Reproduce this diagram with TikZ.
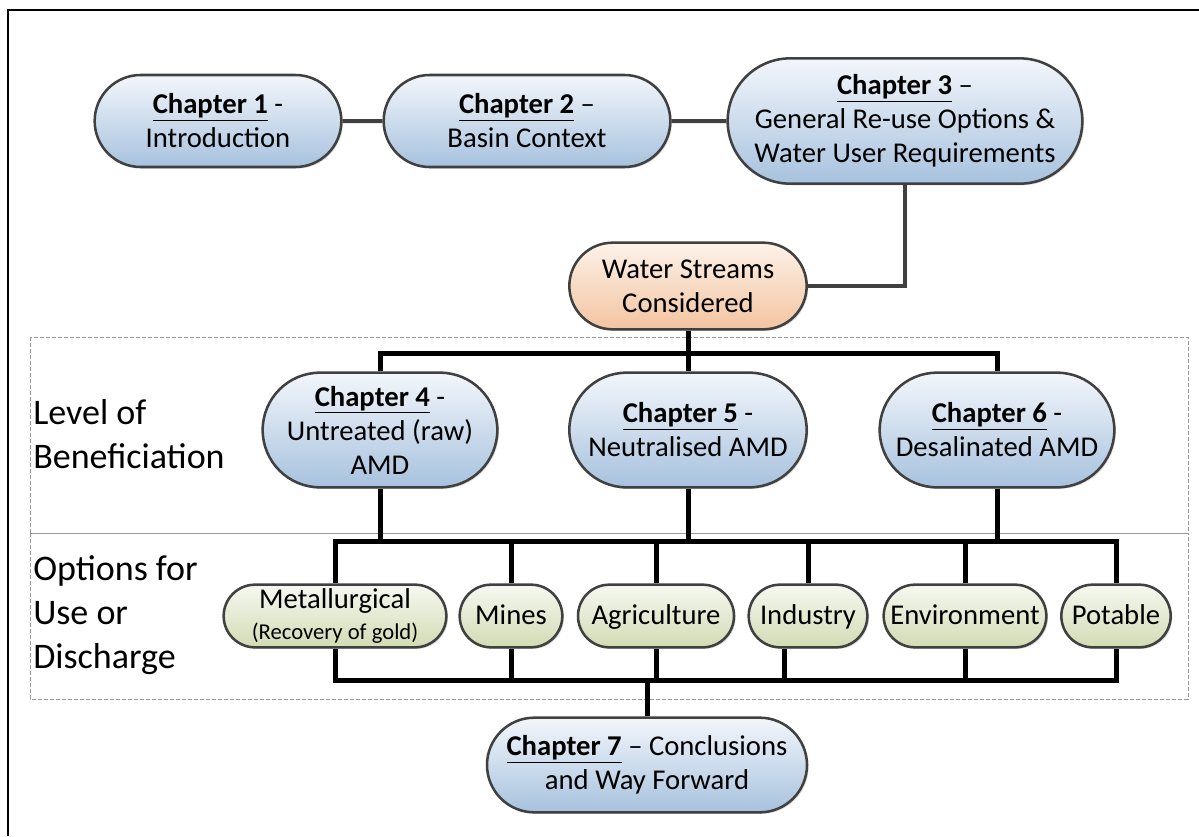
\documentclass[tikz,border=0pt]{standalone}
\usepackage{fontspec}
\setmainfont{Carlito}
\usetikzlibrary{shapes.misc,shadows}

\definecolor{chaptop}{RGB}{243,246,251}
\definecolor{chapblue}{RGB}{167,194,222}
\definecolor{wstop}{RGB}{253,242,233}
\definecolor{wsorange}{RGB}{243,196,160}
\definecolor{opttop}{RGB}{246,248,240}
\definecolor{optgreen}{RGB}{211,219,180}
\definecolor{edgegray}{RGB}{64,64,64}

\newcommand{\chapno}[1]{\underline{\textbf{Chapter #1}}}

\begin{document}
\begin{tikzpicture}[x=0.75pt,y=-0.75pt]
    \tikzset{pill/.style={rounded rectangle, draw=edgegray, line width=1.9pt,
        align=center, inner sep=0pt, font=\fontsize{21.5}{25.5}\selectfont,
        drop shadow={shadow xshift=1.2pt, shadow yshift=-1.2pt, fill=black!25, opacity=.6}}}
    \tikzset{chapbox/.style={pill, top color=chaptop, bottom color=chapblue}}
    \tikzset{wsbox/.style={pill, top color=wstop, bottom color=wsorange}}
    \tikzset{usebox/.style={pill, top color=opttop, bottom color=optgreen, minimum height=47pt}}
    \tikzset{oneline/.style={usebox, text height=14pt, text depth=1pt}}
    \tikzset{graylink/.style={draw=edgegray, line width=3pt}}
    \tikzset{blacklink/.style={draw=black, line width=3.75pt}}
    \tikzset{band/.style={draw=black!40, line width=0.75pt, dash pattern=on 3pt off 1.5pt}}
    \tikzset{sidelabel/.style={anchor=west, align=left, inner sep=0pt, font=\fontsize{27}{33}\selectfont}}
    \useasboundingbox (0,0) rectangle (1199,836);
    % frame and bands
    \draw[line width=1.5pt] (8,836) |- (1199,10);
    \draw[band] (30,337) rectangle (1188,533);
    \draw[band] (30,533) rectangle (1188,699);
    \node[sidelabel] (lvl) at (33,434) {Level of\\Beneficiation};
    \node[sidelabel] (opt) at (33,615) {Options for\\Use or\\Discharge};
    % chapters on top
    \node[chapbox, minimum width=185pt, minimum height=69pt] (ch1) at (218,121) {\chapno{1} -\\Introduction};
    \node[chapbox, minimum width=215pt, minimum height=69pt] (ch2) at (527,121) {\chapno{2} --\\Basin Context};
    \node[chapbox, minimum width=266pt, minimum height=94pt] (ch3) at (905,121) {\chapno{3} --\\General Re-use Options \&\\Water User Requirements};
    \node[wsbox, minimum width=178pt, minimum height=65pt] (ws) at (688,286) {Water Streams\\Considered};
    % level of beneficiation
    \node[chapbox, minimum width=176pt, minimum height=86pt] (ch4) at (380,430) {\chapno{4} -\\Untreated (raw)\\AMD};
    \node[chapbox, minimum width=178pt, minimum height=86pt] (ch5) at (688,430) {\chapno{5} -\\Neutralised AMD};
    \node[chapbox, minimum width=176pt, minimum height=86pt] (ch6) at (997,430) {\chapno{6} -\\Desalinated AMD};
    % options for use
    \node[usebox, minimum width=167pt] (met) at (335,616) {Metallurgical\\[-2pt]{\fontsize{17}{19}\selectfont(Recovery of gold)}};
    \node[oneline, minimum width=77pt] (mines) at (511,616) {Mines};
    \node[oneline, minimum width=117pt] (agri) at (656,616) {Agriculture};
    \node[oneline, minimum width=89pt] (ind) at (808,616) {Industry};
    \node[oneline, minimum width=122pt] (env) at (965,616) {Environment};
    \node[oneline, minimum width=82pt] (pot) at (1116,616) {Potable};
    \node[chapbox, minimum width=240pt, minimum height=71pt] (ch7) at (647,765) {\chapno{7} -- Conclusions\\and Way Forward};
    % bar joints
    \coordinate (topbar) at (688,353);
    \coordinate (midbar) at (688,541);
    \coordinate (lowbar) at (647,680);
    % links
    \draw[graylink] (ch1) -- (ch2);
    \draw[graylink] (ch2) -- (ch3);
    \draw[graylink] (ch3.south) |- (ws.east);
    \draw[blacklink] (ws.south) -- (ch5.north);
    \draw[blacklink] (ch4.north) |- (topbar) -| (ch6.north);
    \draw[blacklink] (ch4.south) -- (ch4.south |- midbar);
    \draw[blacklink] (ch5.south) -- (ch5.south |- midbar);
    \draw[blacklink] (ch6.south) -- (ch6.south |- midbar);
    \draw[blacklink] (met.north) |- (midbar) -| (pot.north);
    \draw[blacklink] (mines.north) -- (mines.north |- midbar);
    \draw[blacklink] (agri.north) -- (agri.north |- midbar);
    \draw[blacklink] (ind.north) -- (ind.north |- midbar);
    \draw[blacklink] (env.north) -- (env.north |- midbar);
    \draw[blacklink] (met.south) |- (lowbar) -| (pot.south);
    \draw[blacklink] (mines.south) -- (mines.south |- lowbar);
    \draw[blacklink] (agri.south) -- (agri.south |- lowbar);
    \draw[blacklink] ([xshift=-18pt]ind.south) -- ([xshift=-18pt]ind.south |- lowbar);
    \draw[blacklink] (env.south) -- (env.south |- lowbar);
    \draw[blacklink] (ch7.north) -- (lowbar);
\end{tikzpicture}
\end{document}
